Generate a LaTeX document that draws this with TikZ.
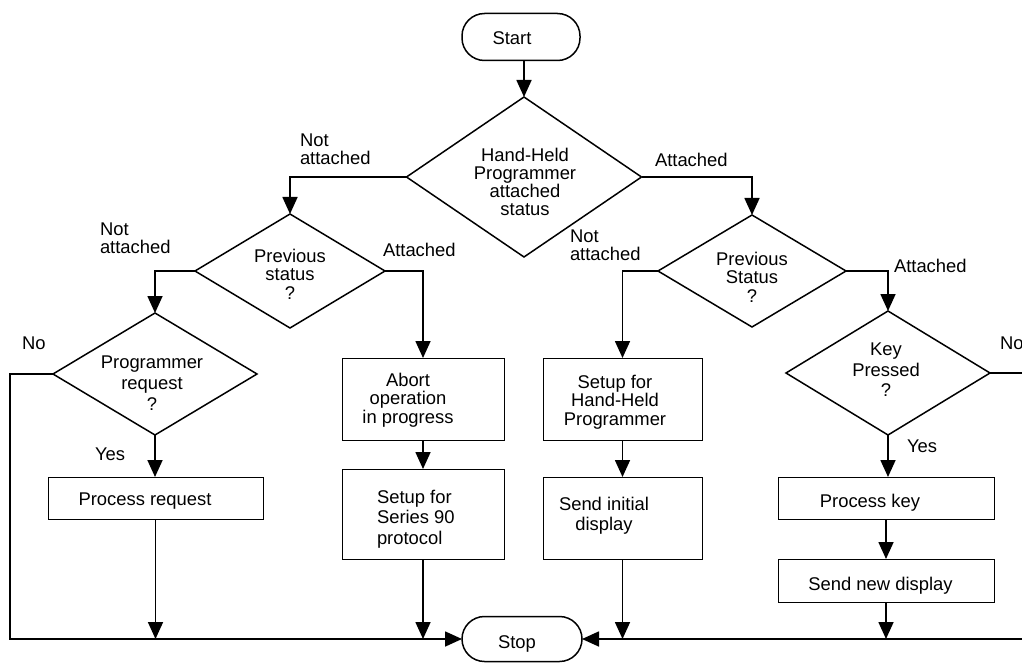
\documentclass[tikz,border=0pt]{standalone}
\usepackage{fontspec}
\setmainfont{Liberation Sans}
\usetikzlibrary{shapes.geometric,arrows.meta}
\begin{document}
\begin{tikzpicture}[x=1pt,y=-1pt,
  every node/.style={font=\fontsize{18.4}{18.5}\selectfont, inner sep=0pt, outer sep=0pt},
  term/.style={draw, line width=1.5pt, rectangle, rounded corners=22.5pt},
  dia/.style={draw, diamond, line width=1.5pt},
  box/.style={draw, rectangle, line width=1pt},
  txt/.style={align=center},
  lbl/.style={align=left, anchor=north west, font=\fontsize{18.4}{17.5}\selectfont},
  conn/.style={line width=1.7pt, -{Triangle[length=17pt,width=15pt]}}]
\useasboundingbox (0,0) rectangle (1022,663);
\clip (0,0) rectangle (1022,663);
% terminals
\node[term, minimum width=118pt, minimum height=47pt] (start) at (521,37) {};
\node[txt] (tstart) at (512,38) {Start};
\node[term, minimum width=120pt, minimum height=45pt] (stop) at (522,639) {};
\node[txt] (tstop) at (517,644) {Stop};
% decisions
\node[dia, minimum width=235pt, minimum height=160pt] (hh) at (524,177) {};
\node[txt, font=\fontsize{18.4}{17.8}\selectfont] (thh) at (525,182) {Hand-Held\\Programmer\\attached\\status};
\node[dia, minimum width=190pt, minimum height=114pt] (ps1) at (290,271) {};
\node[txt] (tps1) at (290,274) {Previous\\status\\?};
\node[dia, minimum width=204pt, minimum height=122pt] (pr) at (155,374) {};
\node[txt, font=\fontsize{18.4}{21}\selectfont] (tpr) at (152,383) {Programmer\\request\\?};
\node[dia, minimum width=188pt, minimum height=112pt] (ps2) at (752,271) {};
\node[txt] (tps2) at (752,277) {Previous\\Status\\?};
\node[dia, minimum width=204pt, minimum height=124pt] (kp) at (888,373) {};
\node[txt, font=\fontsize{18.4}{20.5}\selectfont] (tkp) at (886,370) {Key\\Pressed\\?};
% process boxes
\node[box, minimum width=215pt, minimum height=42pt] (preq) at (155.5,498) {};
\node[txt] (tpreq) at (145,501) {Process request};
\node[box, minimum width=162pt, minimum height=82pt] (abort) at (423,399) {};
\node[txt] (tabort) at (408,400) {Abort\\operation\\in progress};
\node[box, minimum width=162pt, minimum height=90pt] (s90) at (423,514) {};
\node[anchor=north west, align=left, font=\fontsize{18.4}{20.5}\selectfont] (ts90) at (377,490) {Setup for\\Series 90\\protocol};
\node[box, minimum width=159pt, minimum height=82pt] (hhp) at (622.5,399) {};
\node[txt] (thhp) at (615,402) {Setup for\\Hand-Held\\Programmer};
\node[box, minimum width=159pt, minimum height=82pt] (sid) at (622.5,518) {};
\node[txt, font=\fontsize{18.4}{20}\selectfont] (tsid) at (604,516) {Send initial\\display};
\node[box, minimum width=216pt, minimum height=42pt] (pk) at (886,498) {};
\node[txt] (tpk) at (870,503) {Process key};
\node[box, minimum width=216pt, minimum height=43pt] (snd) at (886,580.5) {};
\node[txt] (tsnd) at (880.5,586) {Send new display};
% branch labels
\node[lbl] (l1) at (300,134) {Not\\attached};
\node[lbl] (l2) at (100,223) {Not\\attached};
\node[lbl] (l3) at (383,243) {Attached};
\node[lbl] (l4) at (655,153) {Attached};
\node[lbl] (l5) at (570,230) {Not\\attached};
\node[lbl] (l6) at (894,259) {Attached};
\node[lbl] (l7) at (22,337) {No};
\node[lbl] (l8) at (1000,337) {No};
\node[lbl] (l9) at (95,448) {Yes};
\node[lbl] (l10) at (907,440) {Yes};
% helper coordinates for the loops
\coordinate (lt) at (10,0);
\coordinate (rt) at (1035,0);
% connectors
\draw[conn] (start.south -| hh.north) -- (hh.north);
\draw[conn] (hh.west) -| (ps1.north);
\draw[conn] (hh.east) -| (ps2.north);
\draw[conn] (ps1.west) -| (pr.north);
\draw[conn] (ps1.east) -| (abort.north);
\draw[conn] (ps2.west) -| (hhp.north);
\draw[conn] (ps2.east) -| (kp.north);
\draw[conn] (pr.south) -- (pr.south |- preq.north);
\draw[conn] (abort.south) -- (s90.north);
\draw[conn] (hhp.south) -- (sid.north);
\draw[conn] (kp.south) -- (kp.south |- pk.north);
\draw[conn] (pk.south) -- (snd.north);
\draw[conn] (pr.west) -| (lt |- stop.west) -- (stop.west);
\draw[conn] (kp.east) -| (rt |- stop.east) -- (stop.east);
\draw[conn] (preq.south) -- (preq.south |- stop.west);
\draw[conn] (s90.south) -- (s90.south |- stop.west);
\draw[conn] (sid.south) -- (sid.south |- stop.east);
\draw[conn] (snd.south) -- (snd.south |- stop.east);
\end{tikzpicture}
\end{document}
